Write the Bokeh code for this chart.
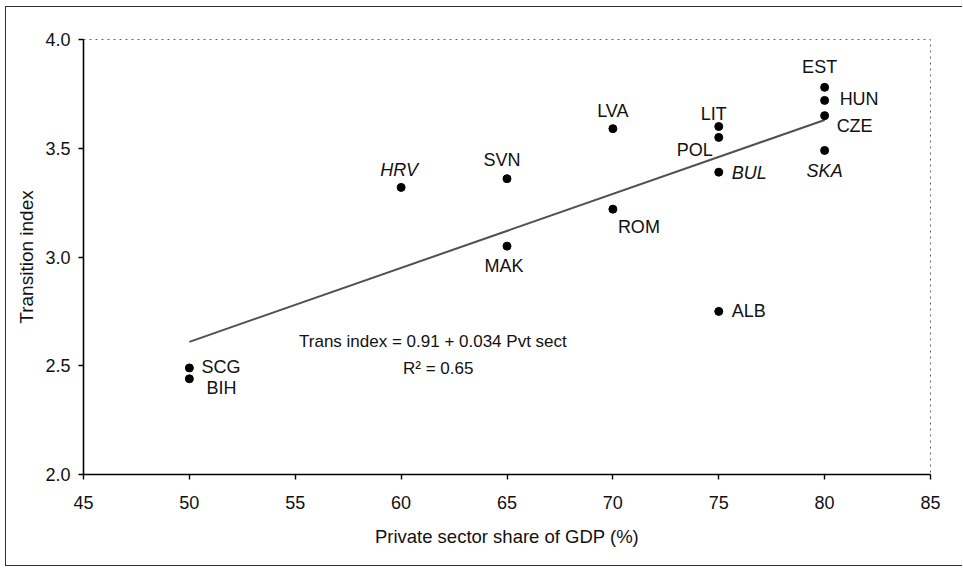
from bokeh.plotting import figure
from bokeh.models import ColumnDataSource, Range1d, FixedTicker, NumeralTickFormatter, Label
from bokeh.core.properties import value
from bokeh.embed import file_html
from bokeh.resources import INLINE

# ---- data ----
countries = ["SCG", "BIH", "HRV", "SVN", "MAK", "LVA", "ROM", "LIT", "POL", "BUL",
             "EST", "HUN", "CZE", "SKA", "ALB"]
private_share = [50, 50, 60, 65, 65, 70, 70, 75, 75, 75, 80, 80, 80, 80, 75]
transition_index = [2.49, 2.44, 3.32, 3.36, 3.05, 3.59, 3.22, 3.60, 3.55, 3.39,
                    3.78, 3.72, 3.65, 3.49, 2.75]
italic_countries = ["HRV", "BUL", "SKA"]
intercept = 0.91
slope = 0.034
fit_x = [50, 80]
x_ticks = [45, 50, 55, 60, 65, 70, 75, 80, 85]
y_ticks = [2.0, 2.5, 3.0, 3.5, 4.0]
equation_text = "Trans index = 0.91 + 0.034 Pvt sect"
r2_text = "R\u00b2 = 0.65"

# ---- label placement (style, screen pixels) ----
placement = {
    "SCG": (12, -1, "left"), "BIH": (17, 9, "left"), "HRV": (-2, -17, "center"),
    "SVN": (-5, -19, "center"), "MAK": (-3, 20, "center"), "LVA": (0, -18, "center"),
    "ROM": (5, 18, "left"), "LIT": (-5, -13, "center"), "POL": (-6, 13, "right"),
    "BUL": (13, 1, "left"), "EST": (-5, -20, "center"), "HUN": (15, -1, "left"),
    "CZE": (12, 10, "left"), "SKA": (0, 21, "center"), "ALB": (13, 0, "left"),
}

FONT = "Liberation Sans"
INK = "#111111"

src = ColumnDataSource(dict(
    x=private_share, y=transition_index, name=countries,
    dx=[placement[c][0] for c in countries],
    dy=[placement[c][1] for c in countries],
    align=[placement[c][2] for c in countries],
    style=["italic" if c in italic_countries else "normal" for c in countries],
))

p = figure(width=957, height=560, output_backend="svg", toolbar_location=None,
           x_range=Range1d(45, 85), y_range=Range1d(2.0, 4.0),
           min_border_left=77, min_border_top=32, min_border_right=33, min_border_bottom=93)
p.styles = {"margin-left": "5px", "margin-top": "6px",
            "border-left": "1px solid #333", "border-top": "1px solid #333",
            "border-bottom": "1px solid #333"}

p.xgrid.visible = False
p.ygrid.visible = False
p.outline_line_color = "#666666"
p.outline_line_dash = "dotted"
p.outline_line_width = 1
p.background_fill_color = "white"
p.border_fill_color = "white"

# regression line
fit_y = [intercept + slope * v for v in fit_x]
p.line(fit_x, fit_y, line_color="#505050", line_width=2)

# points
p.scatter("x", "y", source=src, size=8, color="black")

# labels
p.text("x", "y", text="name", source=src, x_offset="dx", y_offset="dy",
       text_align="align", text_baseline="middle", text_font=value(FONT),
       text_font_size="18px", text_font_style="style", text_color=INK)

# equation
p.add_layout(Label(x=61.5, y=2.61, text=equation_text, text_align="center",
                   text_baseline="middle", text_font=FONT, text_font_size="17px",
                   text_color=INK))
p.add_layout(Label(x=61.75, y=2.487, text=r2_text, text_align="center",
                   text_baseline="middle", text_font=FONT, text_font_size="17px",
                   text_color=INK))

for ax in (p.xaxis[0], p.yaxis[0]):
    ax.axis_line_color = "black"
    ax.axis_line_width = 1.6
    ax.major_tick_line_color = "black"
    ax.major_tick_line_width = 1.4
    ax.major_tick_out = 5
    ax.major_tick_in = 0
    ax.minor_tick_line_color = None
    ax.major_label_text_font = FONT
    ax.major_label_text_font_size = "18px"
    ax.major_label_text_color = INK
    ax.axis_label_text_font = FONT
    ax.axis_label_text_font_style = "normal"
    ax.axis_label_text_color = INK

p.xaxis.axis_label_text_font_size = "18.5px"
p.yaxis.axis_label_text_font_size = "19px"
p.xaxis.ticker = FixedTicker(ticks=x_ticks)
p.yaxis.ticker = FixedTicker(ticks=y_ticks)
p.yaxis.formatter = NumeralTickFormatter(format="0.0")
p.xaxis.axis_label = "Private sector share of GDP (%)"
p.yaxis.axis_label = "Transition index"
p.xaxis.major_label_standoff = 16
p.xaxis.axis_label_standoff = 14
p.yaxis.major_label_standoff = 8
p.yaxis.axis_label_standoff = 5

open("out.html", "w").write(file_html(p, INLINE))
